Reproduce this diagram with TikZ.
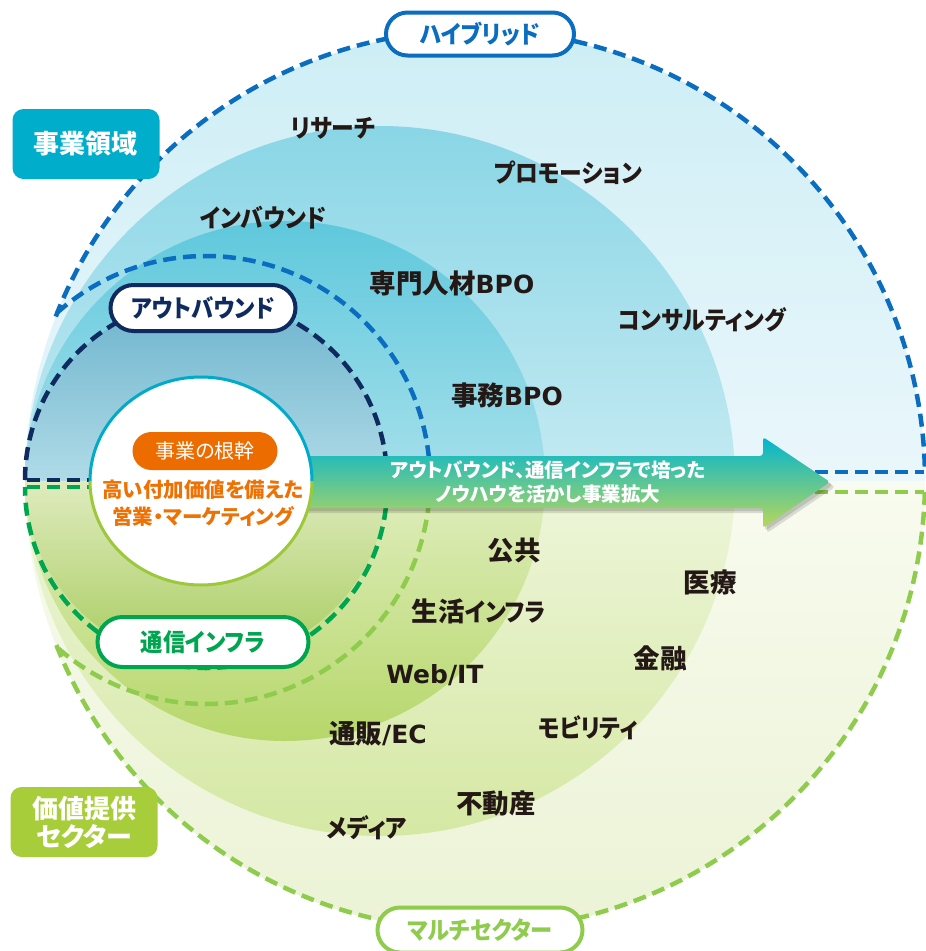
\documentclass[tikz,border=0pt]{standalone}
\usepackage{fontspec}
\setmainfont{Noto Sans CJK JP}[RawFeature=+palt]
\newfontfamily\kanaf{Noto Sans CJK JP}[RawFeature=+palt, FakeStretch=0.91]
\newfontfamily\latf{DejaVu Sans}
\newcommand\LatTxt[1]{{\latf\fontsize{25}{25}\selectfont #1}}
\newcommand\Kj[1]{{\rmfamily\fontsize{26.5}{25}\selectfont #1}}
\usetikzlibrary{shapes.misc}
\definecolor{hybc}{HTML}{0B6DBF}
\definecolor{navyc}{HTML}{0E2A5E}
\definecolor{tsuc}{HTML}{00A54F}
\definecolor{multc}{HTML}{8FCC4E}
\definecolor{jigyoc}{HTML}{00AECB}
\definecolor{kachic}{HTML}{A8CD3A}
\definecolor{orangec}{HTML}{EC6C00}
\definecolor{orangetx}{HTML}{EE7203}
\definecolor{inkc}{HTML}{231815}
\definecolor{uoA}{HTML}{CDEEF5}\definecolor{uoB}{HTML}{EAF7FB}
\definecolor{umA}{HTML}{8AD6E6}\definecolor{umB}{HTML}{C4EAF2}
\definecolor{uiA}{HTML}{5FC8DC}\definecolor{uiB}{HTML}{A6E0EB}
\definecolor{ucA}{HTML}{6DB4CD}\definecolor{ucB}{HTML}{B0DBE7}
\definecolor{loA}{HTML}{F8FBEF}\definecolor{loB}{HTML}{EBF3D5}
\definecolor{lmA}{HTML}{EEF6DB}\definecolor{lmB}{HTML}{D5E8A3}
\definecolor{liA}{HTML}{E0EEBF}\definecolor{liB}{HTML}{B6D76A}
\definecolor{lcA}{HTML}{DFEBBE}\definecolor{lcB}{HTML}{A7CC5F}
\definecolor{arA}{HTML}{00B5D0}\definecolor{arM}{HTML}{3CC0A9}\definecolor{arB}{HTML}{B8D75B}
\definecolor{ringtop}{HTML}{00AAC9}
\definecolor{ringbot}{HTML}{9CC83B}
\tikzset{
  dashline/.style={line width=4.5pt, dash pattern=on 13pt off 7pt},
  pill/.style={draw=#1, text=#1, line width=4pt, fill=white, rounded rectangle,
    font=\kanaf\fontsize{24.5}{24.5}\selectfont\bfseries, inner sep=0pt},
  sidebox/.style={fill=#1, text=white, rounded corners=11pt, minimum width=147pt,
    minimum height=70pt, align=center, inner sep=0pt},
  lab/.style={text=inkc, font=\kanaf\fontsize{25}{25}\selectfont\bfseries, inner sep=0pt},
}
\begin{document}
\begin{tikzpicture}[x=1pt,y=-1pt]
\useasboundingbox (0,0) rectangle (926,951);
% ---------- upper fills ----------
\shade[top color=uoA,bottom color=uoB] (475,481) ++(180:450) arc[start angle=180,end angle=360,radius=450] -- cycle;
\shade[top color=umA,bottom color=umB] (380,481) ++(180:355) arc[start angle=180,end angle=360,radius=355] -- cycle;
\shade[top color=uiA,bottom color=uiB] (285,481) ++(180:260) arc[start angle=180,end angle=360,radius=260] -- cycle;
\shade[top color=ucA,bottom color=ucB] (206,481) ++(180:181) arc[start angle=180,end angle=360,radius=181] -- cycle;
% ---------- lower fills ----------
\shade[top color=loA,bottom color=loB] (475,481) ++(0:450) arc[start angle=0,end angle=180,radius=450] -- cycle;
\shade[top color=lmA,bottom color=lmB] (380,481) ++(0:355) arc[start angle=0,end angle=180,radius=355] -- cycle;
\shade[top color=liA,bottom color=liB] (285,481) ++(0:260) arc[start angle=0,end angle=180,radius=260] -- cycle;
\shade[top color=lcA,bottom color=lcB] (206,481) ++(0:181) arc[start angle=0,end angle=180,radius=181] -- cycle;
% ---------- dashed outlines ----------
\draw[dashline,draw=hybc] (475,480) ++(201.3:450) arc[start angle=201.3,end angle=359,radius=450];
\coordinate (hr1) at (815,472); \coordinate (hr2) at (924,472);
\draw[dashline,draw=hybc] (hr1) -- (hr2);
\draw[dashline,draw=multc] (475,480) ++(1.5:450) arc[start angle=1.5,end angle=158.5,radius=450];
\coordinate (gr1) at (815,492); \coordinate (gr2) at (924,492);
\draw[dashline,draw=multc] (gr1) -- (gr2);
\draw[dashline,draw=hybc] (206,480) ++(228.3:224) arc[start angle=228.3,end angle=360,radius=224];
\draw[dashline,draw=multc] (206,480) ++(0:224) arc[start angle=0,end angle=131.7,radius=224];
\draw[dashline,draw=navyc] (206,480) ++(180:181) arc[start angle=180,end angle=360,radius=181];
\coordinate (nl1) at (27,480); \coordinate (nl2) at (95,480);
\draw[dashline,draw=navyc] (nl1) -- (nl2);
\draw[dashline,draw=tsuc] (206,487) ++(0:181) arc[start angle=0,end angle=180,radius=181];
\coordinate (tl1) at (27,487); \coordinate (tl2) at (95,487);
\draw[dashline,draw=tsuc] (tl1) -- (tl2);
% ---------- arrow ----------
\fill[black,opacity=0.12,rounded corners=3pt] (254,461) -- (767,461) -- (767,442) -- (835,487) -- (767,533) -- (767,513) -- (254,513) -- cycle;
\fill[black,opacity=0.12,rounded corners=3pt] (252,459) -- (765,459) -- (765,440) -- (833,485) -- (765,531) -- (765,511) -- (252,511) -- cycle;
\shade[top color=arA,middle color=arM,bottom color=arB,rounded corners=3pt] (250,456) -- (763,456) -- (763,437) -- (830,482) -- (763,528) -- (763,508) -- (250,508) -- cycle;
\node[text=white, font=\fontsize{19.5}{24}\selectfont\bfseries, align=center, inner sep=0pt] (arrtext) at (548,482) {アウトバウンド、通信インフラで培った\\ノウハウを活かし事業拡大};
% ---------- core circle ----------
\fill[white] (201,481) ellipse[x radius=111,y radius=104];
\draw[ringtop,line width=3pt] (201,481) ++(180:111 and 104) arc[start angle=180,end angle=360,x radius=111,y radius=104];
\draw[ringbot,line width=3pt] (201,481) ++(0:111 and 104) arc[start angle=0,end angle=180,x radius=111,y radius=104];
\node[fill=orangec, text=white, rounded rectangle, minimum width=145pt, minimum height=38pt, inner sep=0pt,
  font=\fontsize{20}{20}\selectfont] (core) at (205,451) {事業の根幹};
\node[text=orangetx, font=\fontsize{20.5}{27}\selectfont\bfseries, align=center, inner sep=0pt] (coretext) at (203,503) {高い付加価値を備えた\\営業・マーケティング};
% ---------- ring labels ----------
\node[pill=hybc, minimum width=188pt, minimum height=43pt] (hyb) at (480,34) {ハイブリッド};
\node[pill=navyc, minimum width=185pt, minimum height=46pt] (outb) at (203,308) {アウトバウンド};
\node[pill=tsuc, minimum width=211pt, minimum height=50pt] (tsu) at (203,642) {通信インフラ};
\node[pill=multc, minimum width=205pt, minimum height=45pt] (mult) at (480,930) {マルチセクター};
% ---------- side boxes ----------
\node[sidebox=jigyoc, font=\fontsize{26}{26}\selectfont\bfseries] (jigyo) at (86,144) {事業領域};
\node[sidebox=kachic, font=\fontsize{26}{28}\selectfont\bfseries] (kachi) at (84,822) {価値提供\\セクター};
% ---------- upper labels ----------
\node[lab] (l1) at (333,128) {リサーチ};
\node[lab] (l2) at (568,173) {プロモーション};
\node[lab] (l3) at (263,218) {インバウンド};
\node[lab] (l4) at (452,283) {\Kj{専門人材}\LatTxt{BPO}};
\node[lab] (l5) at (702,320) {コンサルティング};
\node[lab] (l6) at (507,395) {\Kj{事務}\LatTxt{BPO}};
% ---------- lower labels ----------
\node[lab] (s1) at (514,551) {\Kj{公共}};
\node[lab] (s2) at (710,582) {\Kj{医療}};
\node[lab] (s3) at (479,611) {\Kj{生活}インフラ};
\node[lab] (s4) at (660,658) {\Kj{金融}};
\node[lab] (s5) at (435,675) {\LatTxt{Web/IT}};
\node[lab] (s6) at (588,728) {モビリティ};
\node[lab] (s7) at (378,734) {\Kj{通販}\LatTxt{/EC}};
\node[lab] (s8) at (496,804) {\Kj{不動産}};
\node[lab] (s9) at (367,828) {メディア};
\end{tikzpicture}
\end{document}
